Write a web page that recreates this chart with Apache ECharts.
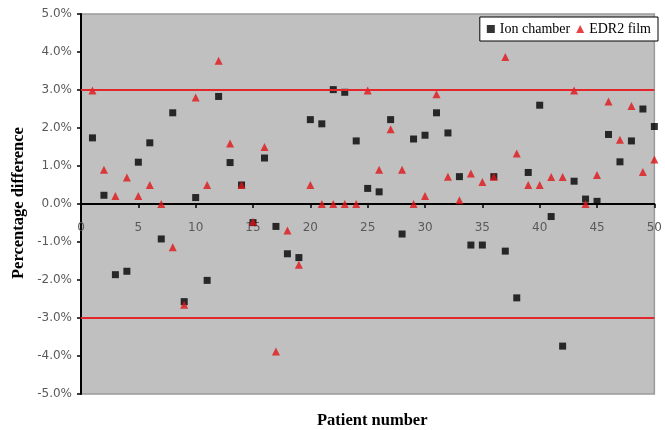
<!DOCTYPE html>
<html>
<head>
<meta charset="utf-8">
<script src="https://cdn.jsdelivr.net/npm/echarts@6/dist/echarts.min.js"></script>
<style>
html,body{margin:0;padding:0;background:#fff;}
#chart{width:665px;height:430px;}
</style>
</head>
<body>
<div id="chart"></div>
<script>
const patients = [1,2,3,4,5,6,7,8,9,10,11,12,13,14,15,16,17,18,19,20,21,22,23,24,25,26,27,28,29,30,31,32,33,34,35,36,37,38,39,40,41,42,43,44,45,46,47,48,49,50];
const ionChamber = [1.74,0.23,-1.86,-1.77,1.10,1.61,-0.92,2.40,-2.57,0.17,
  -2.01,2.83,1.09,0.50,-0.49,1.21,-0.59,-1.31,-1.41,2.22,
  2.11,3.01,2.94,1.66,0.41,0.32,2.22,-0.79,1.71,1.81,
  2.40,1.87,0.72,-1.08,-1.08,0.72,-1.24,-2.47,0.83,2.60,
  -0.33,-3.74,0.60,0.13,0.07,1.83,1.11,1.66,2.50,2.04];
const edr2Film = [2.99,0.90,0.21,0.70,0.21,0.50,0.00,-1.14,-2.65,2.80,
  0.50,3.77,1.59,0.50,-0.47,1.50,-3.88,-0.70,-1.60,0.50,
  0.00,0.00,0.00,0.00,2.99,0.90,1.97,0.90,0.00,0.21,
  2.89,0.72,0.10,0.80,0.58,0.72,3.87,1.33,0.50,0.50,
  0.71,0.71,2.99,0.00,0.76,2.70,1.69,2.58,0.84,1.17];
const limits = [3, -3];
const seriesNames = ['Ion chamber', 'EDR2 film'];
const xTitle = 'Patient number';
const yTitle = 'Percentage difference';

const gridTop = 14, gridBottom = 36, H = 430;
const chart = echarts.init(document.getElementById('chart'), null, {renderer:'canvas'});
const labelFont = {fontFamily:'DejaVu Sans', fontSize:12, color:'#5a5a5a'};
// move the x axis up to the zero line (centre of the symmetric -5..5 range)
const xOffset = -((H - gridBottom) - gridTop) / 2;
chart.setOption({
  animation:false,
  backgroundColor:'#ffffff',
  grid:{left:81, right:3, top:gridTop, bottom:gridBottom, show:true, backgroundColor:'#c0c0c0', borderColor:'#9a9a9a', borderWidth:1.5},
  legend:{
    right:7, top:17, orient:'horizontal',
    backgroundColor:'#ffffff', borderColor:'#000', borderWidth:1, borderRadius:0,
    padding:[5,7,5,7], itemGap:6, itemWidth:8, itemHeight:8,
    textStyle:{fontFamily:'Liberation Serif', fontSize:14, color:'#000'},
    data:[{name:seriesNames[0], icon:'rect', itemStyle:{color:'#000'}},{name:seriesNames[1], icon:'triangle', itemStyle:{color:'#e01418'}}]
  },
  xAxis:{
    type:'value', min:0, max:50, interval:5, position:'bottom', offset:xOffset,
    axisLine:{show:true, onZero:false, lineStyle:{color:'#000', width:2}},
    axisTick:{show:true, length:4, lineStyle:{color:'#000', width:1.5}},
    axisLabel:Object.assign({margin:18}, labelFont),
    splitLine:{show:false}
  },
  yAxis:{
    type:'value', min:-5, max:5, interval:1,
    axisLine:{show:true, onZero:false, lineStyle:{color:'#000', width:2}},
    axisTick:{show:true, length:4, lineStyle:{color:'#000', width:1.5}},
    axisLabel:Object.assign({margin:9, formatter:v=>v.toFixed(1)+'%'}, labelFont),
    splitLine:{show:false}
  },
  graphic:[
    {type:'text', left:317, top:412, style:{text:xTitle, font:'bold 16.5px "Liberation Serif"', fill:'#000'}},
    {type:'text', rotation:Math.PI/2, x:10, y:279, style:{text:yTitle, font:'bold 16.5px "Liberation Serif"', fill:'#000'}}
  ],
  series:[
    {name:'limits', type:'line', data:[], silent:true,
     markLine:{silent:true, symbol:['none','none'], label:{show:false},
       lineStyle:{color:'#e3262b', width:2, type:'solid'},
       data:limits.map(v=>({yAxis:v}))}},
    {name:seriesNames[0], type:'scatter', symbol:'rect', symbolSize:7, itemStyle:{color:'#000'},
     data:patients.map((p,i)=>[p, ionChamber[i]]), z:3},
    {name:seriesNames[1], type:'scatter', symbol:'triangle', symbolSize:8, itemStyle:{color:'#e01418'},
     data:patients.map((p,i)=>[p, edr2Film[i]]), z:4}
  ]
});
</script>
</body>
</html>
